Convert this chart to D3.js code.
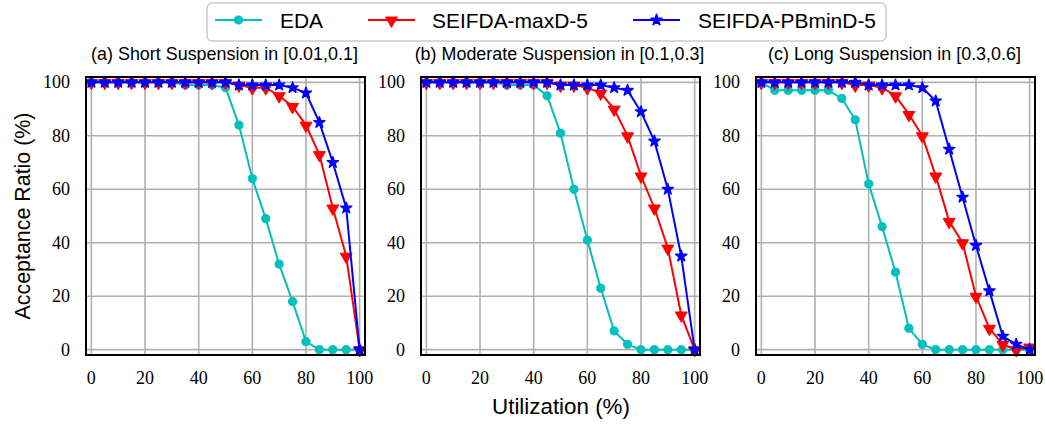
<!DOCTYPE html>
<html>
<head>
<meta charset="utf-8">
<script src="https://cdn.jsdelivr.net/npm/d3@7"></script>
<style>
  html, body { margin: 0; padding: 0; background: #fff; }
  svg { display: block; }
</style>
</head>
<body>
<svg id="chart" width="1045" height="430"></svg>
<script>
// ---------------- data ----------------
const utilization = [0,5,10,15,20,25,30,35,40,45,50,55,60,65,70,75,80,85,90,95,100];
const xTicks = [0,20,40,60,80,100];
const yTicks = [0,20,40,60,80,100];
const seriesNames = ["EDA", "SEIFDA-maxD-5", "SEIFDA-PBminD-5"];
const panelTitles = [
  "(a) Short Suspension in [0.01,0.1]",
  "(b) Moderate Suspension in [0.1,0.3]",
  "(c) Long Suspension in [0.3,0.6]"
];
const edaShort   = [100,100,100,100,100,100,100,99,99,99,98,84,64,49,32,18,3,0,0,0,0];
const maxDShort  = [100,100,100,100,100,100,100,100,100,100,100,99,98,98,95,91,84,73,53,35,0];
const pbShort    = [100,100,100,100,100,100,100,100,100,100,100,99,99,99,99,98,96,85,70,53,0];
const edaMod     = [100,100,100,100,100,100,99,99,99,95,81,60,41,23,7,2,0,0,0,0,0];
const maxDMod    = [100,100,100,100,100,100,100,100,100,100,99,99,98,96,90,80,65,53,38,13,0];
const pbMod      = [100,100,100,100,100,100,100,100,100,100,99,99,99,99,98,97,89,78,60,35,0];
const edaLong    = [100,97,97,97,97,97,94,86,62,46,29,8,2,0,0,0,0,0,0,0,0];
const maxDLong   = [100,100,100,100,100,100,100,99,99,98,95,88,80,65,48,40,20,8,2,0,1];
const pbLong     = [100,100,100,100,100,100,100,100,99,99,99,99,98,93,75,57,39,22,5,2,0];
const panelData = [
  [edaShort, maxDShort, pbShort],
  [edaMod, maxDMod, pbMod],
  [edaLong, maxDLong, pbLong]
];

// ---------------- style ----------------
const colors = ["#00bfbf", "#ff0000", "#0000ff"];
const symbols = [d3.symbolCircle, d3.symbolTriangle, d3.symbolStar];
const symSizes = [52, 62, 38];
const sansFont = "'Liberation Sans', Arial, sans-serif";
const serifFont = "'Liberation Serif', 'DejaVu Serif', serif";

const svg = d3.select("#chart");
const panelLeft = [86, 421, 756];
const panelW = 279, plotTop = 77, plotBottom = 355;

// scale a text's font size so it spans the target width
function fitWidth(sel, target) {
  const w = sel.node().getComputedTextLength();
  const fs = parseFloat(sel.style("font-size"));
  if (w > 0) sel.style("font-size", (fs * target / w).toFixed(2) + "px");
}

function marker(g, i, x, y) {
  const s = g.append("path")
    .attr("d", d3.symbol().type(symbols[i]).size(symSizes[i])())
    .attr("fill", colors[i])
    .attr("stroke", colors[i])
    .attr("stroke-width", i === 2 ? 1.5 : 1)
    .attr("stroke-linejoin", "round");
  if (i === 1) s.attr("transform", `translate(${x},${y + 0.5}) rotate(180)`);
  else s.attr("transform", `translate(${x},${y})`);
}

panelData.forEach((series, p) => {
  const x0 = panelLeft[p];
  const x = d3.scaleLinear().domain([-2, 102]).range([x0, x0 + panelW]);
  const y = d3.scaleLinear().domain([-2, 102]).range([plotBottom, plotTop]);
  const g = svg.append("g");

  // grid
  g.selectAll(".gx").data(xTicks).enter().append("line")
    .attr("x1", d => x(d)).attr("x2", d => x(d))
    .attr("y1", plotTop).attr("y2", plotBottom)
    .attr("stroke", "#b0b0b0").attr("stroke-width", 1.6);
  g.selectAll(".gy").data(yTicks).enter().append("line")
    .attr("y1", d => y(d)).attr("y2", d => y(d))
    .attr("x1", x0).attr("x2", x0 + panelW)
    .attr("stroke", "#b0b0b0").attr("stroke-width", 1.6);

  // series
  series.forEach((vals, i) => {
    const pts = utilization.map((u, k) => [x(u), y(vals[k])]);
    g.append("path")
      .attr("d", d3.line()(pts))
      .attr("fill", "none")
      .attr("stroke", colors[i])
      .attr("stroke-width", 2);
    pts.forEach(pt => marker(g, i, pt[0], pt[1]));
  });

  // frame
  g.append("rect")
    .attr("x", x0).attr("y", plotTop)
    .attr("width", panelW).attr("height", plotBottom - plotTop)
    .attr("fill", "none").attr("stroke", "#000").attr("stroke-width", 2);

  // tick labels
  g.selectAll(".tx").data(xTicks).enter().append("text")
    .attr("x", d => x(d)).attr("y", 384)
    .attr("text-anchor", "middle")
    .style("font-family", serifFont).style("font-size", "18px")
    .text(d => d);
  g.selectAll(".ty").data(yTicks).enter().append("text")
    .attr("x", x0 - 16).attr("y", d => y(d) + 6)
    .attr("text-anchor", "end")
    .style("font-family", serifFont).style("font-size", "18px")
    .text(d => d);

  // title
  const t = g.append("text")
    .attr("x", x0 + panelW / 2 - 1).attr("y", 60)
    .attr("text-anchor", "middle")
    .style("font-family", sansFont).style("font-size", "16px")
    .text(panelTitles[p]);
  if (p === 0) fitWidth(t, 267);
});
// make all titles use the size fitted on the first one
const titleSize = svg.selectAll("g text").filter(function() { return this.textContent === panelTitles[0]; }).style("font-size");
svg.selectAll("g text").filter(function() { return panelTitles.includes(this.textContent); }).style("font-size", titleSize);

// axis labels
const xl = svg.append("text")
  .attr("x", 561).attr("y", 414)
  .attr("text-anchor", "middle")
  .style("font-family", sansFont).style("font-size", "19px")
  .text("Utilization (%)");
fitWidth(xl, 138);
const yl = svg.append("text")
  .attr("transform", "translate(30,216) rotate(-90)")
  .attr("text-anchor", "middle")
  .style("font-family", sansFont).style("font-size", "19px")
  .text("Acceptance Ratio (%)");
fitWidth(yl, 207);

// legend
const leg = svg.append("g");
leg.append("rect")
  .attr("x", 207).attr("y", 3).attr("width", 679).attr("height", 38)
  .attr("rx", 5).attr("ry", 5)
  .attr("fill", "#fff").attr("stroke", "#cccccc").attr("stroke-width", 1.5);
const legLineX = [215, 368, 633];
const legTextX = [280, 432, 698];
const legTextW = [42, 158, 178];
seriesNames.forEach((name, i) => {
  leg.append("line")
    .attr("x1", legLineX[i]).attr("x2", legLineX[i] + 47)
    .attr("y1", 20).attr("y2", 20)
    .attr("stroke", colors[i]).attr("stroke-width", 2);
  marker(leg, i, legLineX[i] + 23.5, 20);
  const lt = leg.append("text")
    .attr("x", legTextX[i]).attr("y", 28)
    .style("font-family", sansFont).style("font-size", "21px")
    .text(name);
  if (i === 2) fitWidth(lt, legTextW[i]);
});
const legSize = leg.selectAll("text").filter(function() { return this.textContent === seriesNames[2]; }).style("font-size");
leg.selectAll("text").style("font-size", legSize);
</script>
</body>
</html>
